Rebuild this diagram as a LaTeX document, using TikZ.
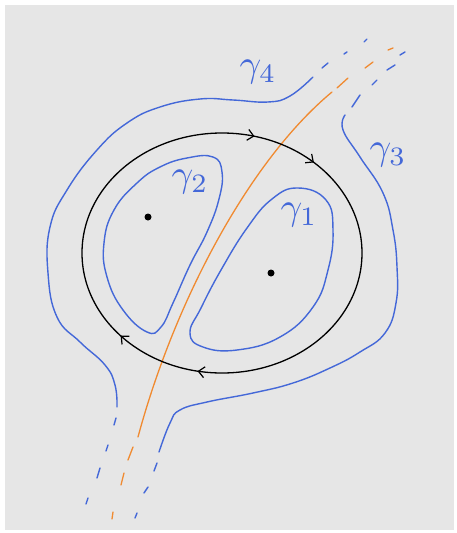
\documentclass[tikz,border=0pt]{standalone}
\usetikzlibrary{arrows.meta,decorations.markings}
\definecolor{bg}{HTML}{E6E6E6}
\definecolor{pen}{HTML}{4468D8}
\definecolor{org}{HTML}{F08A30}
\newcommand{\glab}[1]{\scalebox{3.8}{$\gamma_{#1}$}}
\tikzset{
  bluepen/.style={draw=pen,line width=1.4pt,line cap=round,line join=round},
  orgpen/.style={draw=org,line width=1.3pt,line cap=round},
  lab/.style={text=pen,inner sep=0pt},
  dot/.style={circle,fill=black,inner sep=0pt,minimum width=5.5pt,minimum height=7pt},
  barb/.tip={Straight Barb[length=6pt,width=11pt,line width=1.2pt]},
  arr/.style={postaction={decorate},decoration={markings,
     mark=at position 0.28 with {\arrow{barb}},
     mark=at position 0.385 with {\arrow{barb}},
     mark=at position 0.79 with {\arrow{barb}},
     mark=at position 0.87 with {\arrow{barb}}}}
}
\begin{document}
\begin{tikzpicture}[x=1pt,y=-1pt]
\useasboundingbox (0,0) rectangle (457,533);
\fill[white] (0,0) rectangle (457,533);
\fill[bg] (5,5) rectangle (454,530);

% gamma4 outer (left/top)
\draw[bluepen] plot[smooth,tension=0.75] coordinates {(313,77) (290,96) (268,102) (233,100) (200,99) (160,107) (127,123) (97,150) (67,190) (50,227) (48,273) (57,317) (80,342) (105,365) (115,385) (117,407)};
% gamma3 outer (right/bottom)
\draw[bluepen] plot[smooth,tension=0.75] coordinates {(345,115) (343,130) (360,157) (383,193) (393,230) (397,267) (396,303) (385,333) (360,352) (330,368) (293,383) (253,393) (207,402) (180,410) (170,423) (159,452)};
% gamma2
\draw[bluepen] plot[smooth cycle,tension=0.75] coordinates {(147,332) (123,310) (107,277) (104,243) (114,210) (137,183) (160,167) (187,158) (213,157) (222,172) (219,199) (207,232) (190,265) (173,303) (161,327)};
% gamma1
\draw[bluepen] plot[smooth cycle,tension=0.75] coordinates {(298,188) (326,200) (333,230) (328,270) (313,307) (280,337) (237,350) (203,347) (190,333) (201,308) (221,270) (247,228) (272,199)};

% blue dashes top
\draw[bluepen] (322,68) -- (328,63);
\draw[bluepen] (344,54) -- (347,52);
\draw[bluepen] (364,42) -- (367,39);
\draw[bluepen] (352,107) -- (360,95);
\draw[bluepen] (372,85) -- (377,80);
\draw[bluepen] (387,70) -- (395,65);
\draw[bluepen] (400,55) -- (405,52);
% blue dashes bottom
\draw[bluepen] (116,418) -- (114,425);
\draw[bluepen] (108,445) -- (106,451);
\draw[bluepen] (100,468) -- (97,478);
\draw[bluepen] (88,498) -- (86,504);
\draw[bluepen] (157,463) -- (154,471);
\draw[bluepen] (148,487) -- (144,493);
\draw[bluepen] (137,513) -- (135,518);

% orange line
\draw[orgpen] (332,92) .. controls (250,160) and (175,300) .. (138,437);
\draw[orgpen] (337,88) -- (348,78);
\draw[orgpen] (365,68) -- (373,62);
\draw[orgpen] (388,50) -- (393,48);
\draw[orgpen] (133,447) -- (128,460);
\draw[orgpen] (124,473) -- (121,485);
\draw[orgpen] (113,512) -- (112,519);

% black oriented circle (clockwise on screen)
\draw[line width=1.3pt,arr] (362,253) .. controls (362,319.3) and (299.3,373) .. (222,373)
  .. controls (144.7,373) and (82,319.3) .. (82,253)
  .. controls (82,186.7) and (144.7,133) .. (222,133)
  .. controls (299.3,133) and (362,186.7) .. (362,253);

% punctures
\node[dot] (p2) at (148,217) {};
\node[dot] (p1) at (271,273) {};

% labels
\node[lab] (g4) at (258,72) {\glab{4}};
\node[lab] (g3) at (388,155) {\glab{3}};
\node[lab] (g2) at (190,182) {\glab{2}};
\node[lab] (g1) at (299,215) {\glab{1}};
\end{tikzpicture}
\end{document}
